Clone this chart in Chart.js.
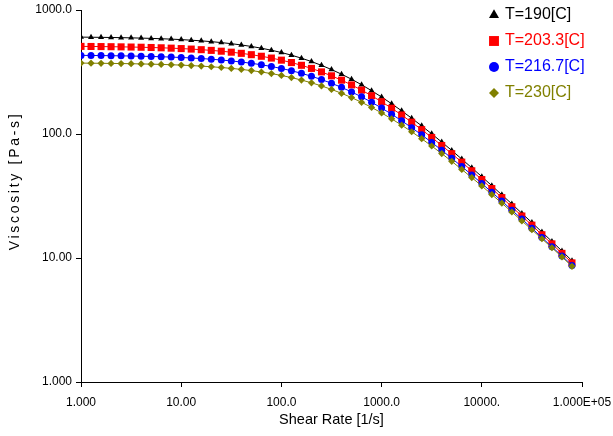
<!DOCTYPE html>
<html>
<head>
<meta charset="utf-8">
<script src="https://cdn.jsdelivr.net/npm/chart.js@4/dist/chart.umd.min.js"></script>
<style>
html,body{margin:0;padding:0;background:#fff;}
#wrap{width:613px;height:436px;}
</style>
</head>
<body>
<div id="wrap"><canvas id="c" width="613" height="436"></canvas></div>
<script>
// Shear rate [1/s] (x values)
const shearRate = [1, 1.259, 1.585, 1.995, 2.512, 3.162, 3.981, 5.012, 6.31, 7.943,
  10, 12.59, 15.85, 19.95, 25.12, 31.62, 39.81, 50.12, 63.1, 79.43,
  100, 125.9, 158.5, 199.5, 251.2, 316.2, 398.1, 501.2, 631, 794.3,
  1000, 1259, 1585, 1995, 2512, 3162, 3981, 5012, 6310, 7943,
  10000, 12590, 15850, 19950, 25120, 31620, 39810, 50120, 63100, 79430];

// Viscosity [Pa-s]
const visc190 = [604.3, 603.2, 601.8, 600.3, 598.4, 596.2, 593.5, 590.4, 586.6, 582.3,
  577.1, 571.0, 563.9, 555.7, 546.1, 535.1, 522.5, 508.2, 492.0, 473.9,
  454.0, 432.3, 408.8, 383.9, 357.8, 330.9, 303.6, 276.4, 249.5, 223.5,
  198.7, 175.4, 153.8, 134.1, 116.3, 100.3, 86.1, 73.7, 62.8, 53.4,
  45.3, 38.3, 32.3, 27.3, 22.9, 19.3, 16.2, 13.6, 11.4, 9.5];

const visc203 = [508.8, 507.9, 507.0, 505.8, 504.4, 502.7, 500.8, 498.4, 495.7, 492.4,
  488.5, 484.0, 478.6, 472.4, 465.2, 456.8, 447.2, 436.2, 423.6, 409.6,
  394.0, 376.8, 358.1, 338.0, 316.8, 294.6, 271.8, 248.8, 225.9, 203.5,
  181.9, 161.4, 142.3, 124.5, 108.4, 93.8, 80.8, 69.4, 59.3, 50.5,
  42.9, 36.3, 30.7, 25.9, 21.8, 18.4, 15.4, 13.0, 10.9, 9.13];

const visc216 = [430.5, 429.8, 429.0, 428.0, 426.9, 425.5, 423.9, 422.0, 419.7, 417.1,
  414.0, 410.3, 406.0, 401.0, 395.1, 388.4, 380.6, 371.7, 361.7, 350.3,
  337.7, 323.8, 308.6, 292.2, 274.8, 256.5, 237.7, 218.5, 199.3, 180.4,
  162.0, 144.5, 127.9, 112.5, 98.4, 85.5, 74.0, 63.7, 54.7, 46.8,
  39.9, 33.9, 28.8, 24.3, 20.6, 17.4, 14.6, 12.3, 10.4, 8.72];

const visc230 = [373.0, 372.4, 371.7, 370.9, 370.0, 368.8, 367.5, 365.9, 364.1, 361.9,
  359.3, 356.2, 352.7, 348.6, 343.8, 338.2, 331.9, 324.6, 316.3, 307.0,
  296.6, 285.0, 272.4, 258.8, 244.2, 228.9, 213.0, 196.7, 180.2, 163.9,
  147.9, 132.5, 117.9, 104.3, 91.6, 80.0, 69.5, 60.2, 51.8, 44.5,
  38.1, 32.5, 27.7, 23.5, 19.9, 16.9, 14.3, 12.1, 10.2, 8.57];

const seriesLabels = ['T=190[C]', 'T=203.3[C]', 'T=216.7[C]', 'T=230[C]'];

const xTickValues = [1, 10, 100, 1000, 10000, 100000];
const xTickLabels = ['1.000', '10.00', '100.0', '1000.0', '10000.', '1.000E+05'];
const yTickValues = [1, 10, 100, 1000];
const yTickLabels = ['1.000', '10.00', '100.0', '1000.0'];

const xTitle = 'Shear Rate [1/s]';
const yTitle = 'Viscosity [Pa-s]';

const FONT = '"Liberation Sans", Arial, sans-serif';
const colors = ['#000000', '#ff0000', '#0000ff', '#808000'];
const styles = ['triangle', 'rect', 'circle', 'rectRot'];
const radii = [3.5, 5, 3.5, 3.6];
const legendRadii = [5.8, 7, 5, 5];
const seriesValues = [visc190, visc203, visc216, visc230];

const datasets = seriesValues.map((vals, i) => ({
  label: seriesLabels[i],
  data: shearRate.map((x, j) => ({x: x, y: vals[j]})),
  showLine: true,
  borderColor: colors[i],
  backgroundColor: colors[i],
  borderWidth: 1,
  pointStyle: styles[i],
  pointRadius: radii[i],
  pointBorderWidth: 0,
  pointBackgroundColor: colors[i],
  pointBorderColor: colors[i],
  order: 3 - i,
  tension: 0
}));

const overlay = {
  id: 'overlay',
  afterDraw(chart) {
    const ctx = chart.ctx;
    const area = chart.chartArea;
    ctx.save();
    // X title
    ctx.fillStyle = '#000';
    ctx.font = '14.5px ' + FONT;
    ctx.textAlign = 'center';
    ctx.textBaseline = 'middle';
    ctx.fillText(xTitle, (area.left + area.right) / 2, 420);
    // Y title (letter-spaced, rotated)
    ctx.save();
    ctx.translate(15, 181);
    ctx.rotate(-Math.PI / 2);
    ctx.font = '14px ' + FONT;
    if ('letterSpacing' in ctx) ctx.letterSpacing = '2.7px';
    ctx.textAlign = 'center';
    ctx.textBaseline = 'middle';
    ctx.fillText(yTitle, 0, 0);
    ctx.restore();
    // Legend
    chart.data.datasets.forEach((ds, i) => {
      const y = 15 + i * 26;
      ctx.fillStyle = ds.backgroundColor;
      ctx.strokeStyle = ds.borderColor;
      Chart.helpers.drawPoint(ctx, {pointStyle: ds.pointStyle, radius: legendRadii[i], rotation: 0, borderWidth: 0}, 494, y);
      ctx.fillStyle = ds.borderColor;
      ctx.font = '16px ' + FONT;
      ctx.textAlign = 'left';
      ctx.textBaseline = 'middle';
      ctx.fillText(ds.label, 505, y);
    });
    ctx.restore();
  }
};

new Chart(document.getElementById('c').getContext('2d'), {
  type: 'scatter',
  data: {datasets: datasets},
  options: {
    responsive: false,
    animation: false,
    devicePixelRatio: 1,
    layout: {padding: {left: 0, right: 31, top: 10, bottom: 0}},
    plugins: {legend: {display: false}, tooltip: {enabled: false}},
    scales: {
      x: {
        type: 'logarithmic',
        min: 1, max: 100000,
        afterFit(s) { s.height = 54; s.paddingLeft = 0; s.paddingRight = 0; },
        afterBuildTicks(s) { s.ticks = xTickValues.map(v => ({value: v})); },
        ticks: {
          callback: (v, i) => xTickLabels[i],
          font: {family: FONT, size: 12},
          color: '#000',
          padding: 8,
          maxRotation: 0,
          autoSkip: false
        },
        grid: {display: true, drawOnChartArea: false, drawTicks: true, tickLength: 5, color: '#000', tickColor: '#000'},
        border: {display: true, color: '#000', width: 1}
      },
      y: {
        type: 'logarithmic',
        min: 1, max: 1000,
        afterFit(s) { s.width = 81; s.paddingTop = 0; s.paddingBottom = 0; },
        afterBuildTicks(s) { s.ticks = yTickValues.map(v => ({value: v})); },
        ticks: {
          callback: (v, i) => yTickLabels[i],
          font: {family: FONT, size: 12},
          color: '#000',
          padding: 4,
          autoSkip: false
        },
        grid: {display: true, drawOnChartArea: false, drawTicks: true, tickLength: 5, color: '#000', tickColor: '#000'},
        border: {display: true, color: '#000', width: 1}
      }
    }
  },
  plugins: [overlay]
});
</script>
</body>
</html>
